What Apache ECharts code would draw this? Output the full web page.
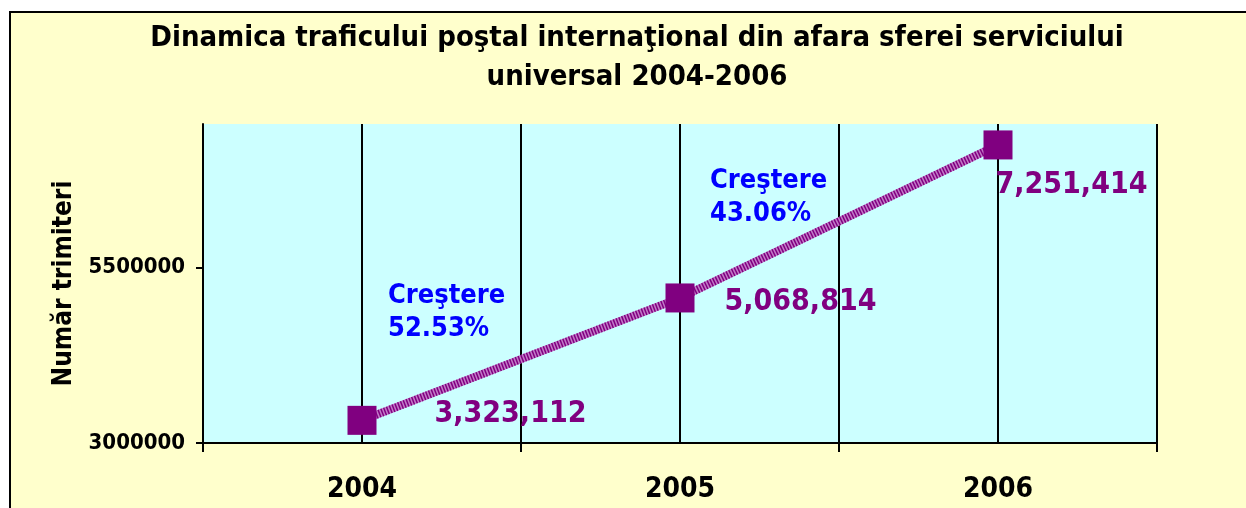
<!DOCTYPE html>
<html>
<head>
<meta charset="utf-8">
<script src="https://cdn.jsdelivr.net/npm/echarts@6/dist/echarts.min.js"></script>
<style>
  html, body { margin: 0; padding: 0; background: #ffffff; }
  #chart { width: 1246px; height: 508px; }
</style>
</head>
<body>
<div id="chart"></div>
<script>
// Postal traffic outside the universal service, 2004-2006
const years = [2004, 2005, 2006];
const items = [3323112, 5068814, 7251414];
const yTicks = [3000000, 5500000];
const growthNotes = [
  ['Creştere', '52.53%'],
  ['Creştere', '43.06%']
];
const titleLines = [
  'Dinamica traficului poştal internaţional din afara sferei serviciului',
  'universal 2004-2006'
];
const yName = 'Număr trimiteri';

const FONT = '"DejaVu Sans Condensed", "DejaVu Sans", Verdana, sans-serif';
const PURPLE = '#800080';
const BLACK_LINE = { color: '#000', width: 2 };

const points = years.map((y, i) => [y, items[i]]);
// where each value label sits relative to its marker
const labelOffsets = [[58, -6], [30, 4], [-17, 40]];
const boundaries = [2003.5, 2004.5, 2005.5, 2006.5];

const chart = echarts.init(document.getElementById('chart'));

chart.setOption({
  backgroundColor: '#FFFFCC',
  animation: false,
  grid: {
    left: 203, top: 124, right: 89, bottom: 65,
    show: true, backgroundColor: '#CCFFFF', borderWidth: 0
  },
  xAxis: [
    {
      type: 'value',
      min: 2003.5, max: 2006.5, interval: 0.5,
      axisLine: { show: true, onZero: false, lineStyle: BLACK_LINE },
      axisTick: {
        show: true, length: 9, inside: false,
        customValues: boundaries,
        lineStyle: BLACK_LINE
      },
      axisLabel: {
        customValues: years,
        formatter: v => String(v),
        margin: 33,
        color: '#000', fontFamily: FONT, fontWeight: 'bold', fontSize: 28
      },
      splitLine: { show: true, lineStyle: BLACK_LINE }
    },
    {
      // carries the vertical gridlines through each year
      type: 'value',
      position: 'bottom',
      min: 2003.5, max: 2006.5, interval: 0.5,
      axisLine: { show: false },
      axisTick: { show: false, customValues: years },
      axisLabel: { show: false, customValues: years },
      splitLine: { show: true, lineStyle: BLACK_LINE }
    }
  ],
  yAxis: {
    type: 'value',
    min: 3000000, max: 7550000, interval: 2500000,
    name: yName,
    nameLocation: 'middle', nameRotate: 90, nameGap: 125,
    nameTextStyle: { color: '#000', fontFamily: FONT, fontWeight: 'bold', fontSize: 26 },
    axisLine: { show: true, lineStyle: BLACK_LINE },
    axisTick: {
      show: true, length: 7,
      customValues: yTicks,
      lineStyle: BLACK_LINE
    },
    axisLabel: {
      customValues: yTicks,
      formatter: v => String(v),
      margin: 18,
      color: '#000', fontFamily: FONT, fontWeight: 'bold', fontSize: 22
    },
    splitLine: {
      show: true, showMinLine: false, showMaxLine: false,
      lineStyle: BLACK_LINE
    }
  },
  series: [
    {
      // pale base of the hatched line
      type: 'line',
      data: points,
      showSymbol: false,
      silent: true,
      lineStyle: { color: '#C27AC8', width: 8 },
      z: 3
    },
    {
      // dark hatch strokes, markers and value labels
      type: 'line',
      data: points.map((p, i) => ({
        value: p,
        label: { offset: labelOffsets[i] }
      })),
      symbol: 'rect',
      symbolSize: 29,
      itemStyle: { color: PURPLE },
      lineStyle: { color: PURPLE, width: 8, type: [1.5, 1.5] },
      label: {
        show: true,
        position: 'right',
        distance: 0,
        formatter: p => p.value[1].toLocaleString('en-US'),
        color: PURPLE, fontFamily: FONT, fontWeight: 'bold', fontSize: 30
      },
      z: 4
    }
  ],
  graphic: [
    // white margin above and left of the chart frame
    { type: 'rect', shape: { x: 0, y: 0, width: 1246, height: 11 }, style: { fill: '#fff' }, silent: true },
    { type: 'rect', shape: { x: 0, y: 0, width: 9, height: 508 }, style: { fill: '#fff' }, silent: true },
    { type: 'line', shape: { x1: 9, y1: 12, x2: 1246, y2: 12 }, style: { stroke: '#000', lineWidth: 2 }, silent: true },
    { type: 'line', shape: { x1: 10, y1: 11, x2: 10, y2: 508 }, style: { stroke: '#000', lineWidth: 2 }, silent: true },
    {
      type: 'text', x: 637, y: 19,
      style: {
        text: titleLines.join('\n'),
        textAlign: 'center', textVerticalAlign: 'top',
        lineHeight: 39,
        fill: '#000', font: 'bold 29px ' + FONT
      }
    },
    {
      type: 'text', x: 388, y: 279,
      style: {
        text: growthNotes[0].join('\n'),
        textAlign: 'left', textVerticalAlign: 'top',
        lineHeight: 33,
        fill: '#0000FF', font: 'bold 27px ' + FONT
      }
    },
    {
      type: 'text', x: 710, y: 164,
      style: {
        text: growthNotes[1].join('\n'),
        textAlign: 'left', textVerticalAlign: 'top',
        lineHeight: 33,
        fill: '#0000FF', font: 'bold 27px ' + FONT
      }
    }
  ]
});
</script>
</body>
</html>
